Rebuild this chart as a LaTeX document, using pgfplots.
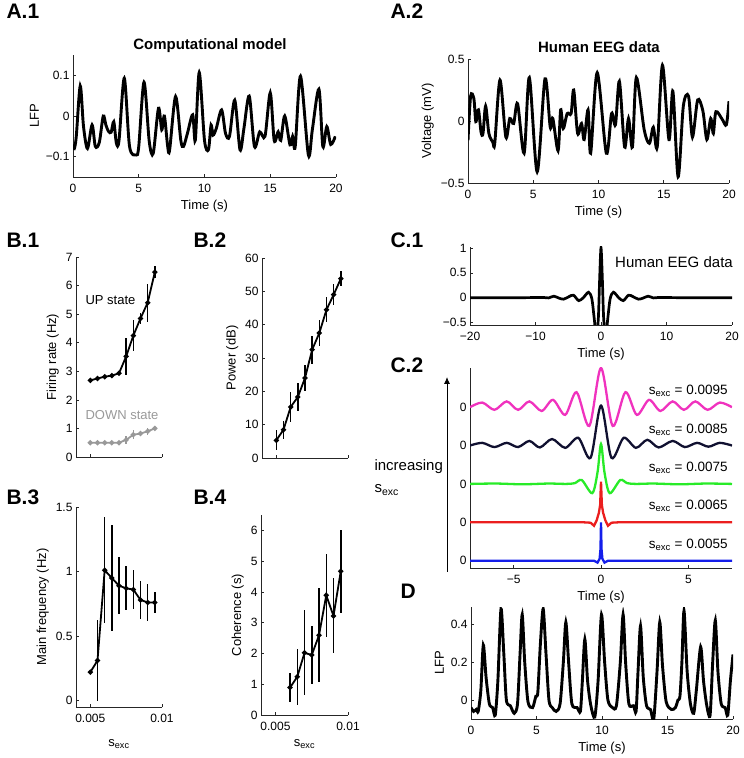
\documentclass[border=0pt]{standalone}
\usepackage{fontspec}
\setmainfont{Liberation Sans}
\usepackage{pgfplots}
\pgfplotsset{compat=1.18}
\usetikzlibrary{arrows.meta}

\definecolor{cpink}{RGB}{240,50,190}
\definecolor{cnavy}{RGB}{16,16,48}
\definecolor{cgreen}{RGB}{40,235,40}
\definecolor{cred}{RGB}{235,30,30}
\definecolor{cblue}{RGB}{20,30,235}

\pgfplotsset{
  mstyle/.style={
    scale only axis, anchor=south west,
    axis lines*=left,
    axis line style={line width=0.6pt, black!85},
    tick style={line width=0.6pt, black!85},
    major tick length=3pt, tick align=inside,
    /pgf/number format/assume math mode=true,
    scaled ticks=false,
    ticklabel style={font=\fontsize{12}{14}\selectfont},
    xticklabel style={yshift=-4pt},
    label style={font=\fontsize{13}{15}\selectfont},
  },
  ebar/.style={error bars/.cd, y dir=both, y explicit, error mark=none,
    error bar style={line width=1.5pt}},
}
\newcommand{\plab}[3]{\node[font=\bfseries\fontsize{21}{21}\selectfont, anchor=base west] at (#1pt,#2pt) {#3};}
\newcommand{\sexc}{s\textsubscript{exc}}

\begin{document}
\begin{tikzpicture}
\useasboundingbox (0pt,0pt) rectangle (744pt,758pt);

% ---------- A.1
\plab{3}{739}{A.1}
\node[font=\bfseries\fontsize{15}{15}\selectfont, anchor=base] at (210pt,708pt) {Computational model};
\begin{axis}[mstyle, at={(73pt,581pt)}, width=263pt, height=122pt,
  xmin=0, xmax=20, ymin=-0.15, ymax=0.15,
  xtick={0,5,10,15,20}, ytick={-0.1,0,0.1}, yticklabels={−0.1,0,0.1},
  xlabel={Time (s)}, ylabel={LFP}]
\addplot[black, line width=2.9pt, smooth] coordinates {
(0,-0.07)(0.1,-0.08)(0.25,-0.05)(0.55,0.074)(0.8,-0.026)(1.1,-0.08)(1.45,-0.022)(1.7,-0.075)
(2.0,-0.065)(2.3,0)(2.5,-0.022)(2.7,-0.038)(2.9,-0.04)(3.1,-0.014)(3.3,-0.067)(3.5,-0.06)
(3.9,0.093)(4.3,-0.075)(4.8,-0.096)(5.0,-0.075)(5.4,0.083)(5.8,-0.063)(6.1,-0.092)(6.5,0.019)
(6.75,-0.034)(6.95,0)(7.2,-0.075)(7.35,-0.083)(7.8,0.048)(8.2,-0.06)(8.4,-0.075)(8.7,-0.043)
(9.1,0.003)(9.3,-0.06)(9.6,0.107)(10.0,-0.06)(10.3,-0.083)(10.5,-0.022)(10.65,-0.047)(10.9,-0.03)
(11.3,0.015)(11.6,-0.043)(11.9,-0.05)(12.3,0.039)(12.7,-0.083)(13.0,-0.03)(13.4,0.049)(13.8,-0.075)
(14.2,-0.039)(14.6,-0.05)(15.0,0.057)(15.3,-0.06)(15.6,-0.039)(15.8,-0.06)(16.1,0)(16.5,-0.071)
(16.7,-0.05)(16.9,-0.075)(17.3,0.098)(17.9,-0.096)(18.2,-0.034)(18.7,0.066)(19.0,-0.075)(19.3,-0.026)
(19.6,-0.07)(19.95,-0.05)};
\end{axis}

% ---------- A.2
\plab{387}{739}{A.2}
\node[font=\bfseries\fontsize{15}{15}\selectfont, anchor=base] at (599pt,705pt) {Human EEG data};
\begin{axis}[mstyle, at={(468pt,575pt)}, width=261pt, height=124pt,
  xmin=0, xmax=20, ymin=-0.5, ymax=0.5,
  xtick={0,5,10,15,20}, ytick={-0.5,0,0.5}, yticklabels={−0.5,0,0.5},
  xlabel={Time (s)}, ylabel={Voltage (mV)}]
\addplot[black, line width=2.9pt, smooth] coordinates {
(0.0,-0.155)(0.2,0.2)(0.45,0.18)(0.6,-0.005)(0.8,0.09)(1.0,-0.09)(1.15,-0.1)(1.35,0.12)
(1.6,-0.1)(1.9,-0.17)(2.05,-0.18)(2.45,0.33)(2.9,-0.13)(3.2,0.02)(3.5,-0.02)(3.8,0.14)
(4.3,-0.26)(4.7,0.35)(5.3,-0.41)(5.9,0.34)(6.3,-0.05)(6.5,0.02)(6.9,-0.24)(7.1,0.09)
(7.3,-0.06)(7.6,0.06)(7.9,0.06)(8.1,0.25)(8.4,-0.1)(8.7,-0.02)(8.9,-0.15)(9.2,0.09)
(9.4,-0.26)(9.9,0.39)(10.6,-0.26)(11.0,0.06)(11.3,-0.03)(11.6,0.32)(12.0,-0.21)(12.3,0.02)
(12.6,-0.21)(12.9,0.35)(13.5,-0.07)(13.9,-0.18)(14.2,-0.05)(14.5,-0.21)(14.9,0.45)(15.4,-0.15)
(15.7,0.24)(16.1,-0.45)(16.5,0.12)(16.9,0.2)(17.2,-0.13)(17.6,0.17)(18.0,0.08)(18.3,-0.15)
(18.6,0.02)(18.8,-0.1)(19.0,0.075)(19.5,0.01)(19.8,-0.03)(20.0,0.16)};
\end{axis}

% ---------- B.1
\plab{3}{510}{B.1}
\begin{axis}[mstyle, at={(76pt,301pt)}, width=86pt, height=200pt,
  xmin=0.004, xmax=0.01, ymin=0, ymax=7,
  xtick={0.005,0.01}, xticklabels={}, ytick={0,1,...,7},
  ylabel={Firing rate (Hz)}]
\addplot[black, line width=1.8pt, mark=*, mark size=1.6pt, ebar] coordinates {
(0.005,2.68)+-(0,0.05) (0.0055,2.75)+-(0,0.05) (0.006,2.81)+-(0,0.05) (0.0065,2.85)+-(0,0.05)
(0.007,2.93)+-(0,0.05) (0.0075,3.52)+-(0,0.65) (0.008,4.25)+-(0,0.55) (0.0085,4.85)+-(0,0.2)
(0.009,5.4)+-(0,0.67) (0.0095,6.47)+-(0,0.2)};
\addplot[black!40, line width=1.8pt, mark=*, mark size=1.6pt, ebar] coordinates {
(0.005,0.5)+-(0,0.03) (0.0055,0.5)+-(0,0.03) (0.006,0.5)+-(0,0.03) (0.0065,0.5)+-(0,0.03)
(0.007,0.5)+-(0,0.03) (0.0075,0.6)+-(0,0.15) (0.008,0.78)+-(0,0.15) (0.0085,0.82)+-(0,0.05)
(0.009,0.9)+-(0,0.12) (0.0095,1.0)+-(0,0.05)};
\end{axis}
\node[anchor=west, font=\fontsize{13}{15}\selectfont] at (82pt,458pt) {UP state};
\node[anchor=west, font=\fontsize{13}{15}\selectfont, text=black!40] at (82pt,343pt) {DOWN state};

% ---------- B.2
\plab{190}{510}{B.2}
\begin{axis}[mstyle, at={(262pt,300pt)}, width=86pt, height=200pt,
  xmin=0.004, xmax=0.01, ymin=0, ymax=60,
  xtick={0.005,0.01}, xticklabels={}, ytick={0,10,...,60},
  ylabel={Power (dB)}]
\addplot[black, line width=1.8pt, mark=*, mark size=1.6pt, ebar] coordinates {
(0.005,5.3)+-(0,3) (0.0055,8.5)+-(0,2.7) (0.006,15.3)+-(0,4.5) (0.0065,18.3)+-(0,4.2)
(0.007,24)+-(0,3.9) (0.0075,32.5)+-(0,4.2) (0.008,37.5)+-(0,4) (0.0085,44.5)+-(0,3.7)
(0.009,49)+-(0,3.2) (0.0095,53.8)+-(0,2.2)};
\end{axis}

% ---------- B.3
\plab{3}{253}{B.3}
\begin{axis}[mstyle, at={(76pt,51pt)}, width=86pt, height=200pt,
  xmin=0.004, xmax=0.01, ymin=-0.05, ymax=1.5,
  xtick={0.005,0.01}, xticklabels={0.005,0.01}, ytick={0,0.5,1,1.5},
  xlabel={\sexc}, xlabel style={yshift=-10pt},
  ylabel={Main frequency (Hz)}]
\addplot[black, line width=1.8pt, mark=*, mark size=1.6pt, ebar] coordinates {
(0.005,0.22)+-(0,0) (0.0055,0.31)+-(0,0.315) (0.006,1.01)+-(0,0.41) (0.0065,0.95)+-(0,0.41)
(0.007,0.89)+-(0,0.22) (0.0075,0.87)+-(0,0.17) (0.008,0.86)+-(0,0.15) (0.0085,0.78)+-(0,0.145)
(0.009,0.76)+-(0,0.14) (0.0095,0.76)+-(0,0.085)};
\end{axis}

% ---------- B.4
\plab{190}{253}{B.4}
\begin{axis}[mstyle, at={(261pt,43pt)}, width=87pt, height=200pt,
  xmin=0.004, xmax=0.01, ymin=0, ymax=6.5,
  xtick={0.005,0.01}, xticklabels={0.005,0.01}, ytick={0,1,...,6},
  xlabel={\sexc}, xlabel style={yshift=-2pt},
  ylabel={Coherence (s)}]
\addplot[black, line width=1.8pt, mark=*, mark size=1.6pt, ebar] coordinates {
(0.006,0.89)+-(0,0.46) (0.0065,1.24)+-(0,0.92) (0.007,2.02)+-(0,1.38) (0.0075,1.95)+-(0,0.93)
(0.008,2.59)+-(0,1.53) (0.0085,3.89)+-(0,1.35) (0.009,3.22)+-(0,1.22) (0.0095,4.67)+-(0,1.35)};
\end{axis}

% ---------- C.1
\plab{387}{510}{C.1}
\begin{axis}[mstyle, at={(470pt,433pt)}, width=262pt, height=78pt,
  xmin=-20, xmax=20, ymin=-0.55, ymax=1.02,
  xtick={-20,-10,0,10,20}, xticklabels={−20,−10,0,10,20},
  ytick={-0.5,0,0.5,1}, yticklabels={−0.5,0,0.5,1},
  xlabel={Time (s)}]
\addplot[black, line width=2.7pt, smooth] coordinates {
(-20,0)(-12,0)(-9,0.005)(-8,-0.005)(-7.2,0.03)(-6.4,-0.01)(-5.7,-0.03)(-4.9,0.02)(-4.2,0.05)
(-3.4,-0.06)(-2.7,0.0)(-1.9,0.11)(-1.4,-0.02)(-1.05,-0.4)(-0.7,-0.8)(-0.4,-0.4)(-0.2,0.4)(0,1)
(0.2,0.4)(0.4,-0.4)(0.7,-0.8)(1.05,-0.4)(1.4,-0.02)(1.9,0.11)(2.7,0)(3.4,-0.06)(4.2,0.05)
(4.9,0.02)(5.7,-0.03)(6.4,-0.01)(7.2,0.03)(8,-0.005)(9,0.005)(12,0)(20,0)};
\end{axis}
\node[font=\fontsize{15}{15}\selectfont] at (674pt,496pt) {Human EEG data};

% ---------- C.2
\plab{387}{385}{C.2}
\begin{axis}[mstyle, at={(470pt,190pt)}, width=262pt, height=200pt,
  xmin=-7.5, xmax=7.5, ymin=-0.19, ymax=5.02,
  xtick={-5,0,5}, xticklabels={−5,0,5},
  ytick={0,1,2,3,4}, yticklabels={0,0,0,0,0}, ytick style={draw=none},
  xlabel={Time (s)}]
\addplot[cpink, line width=2.3pt, smooth] coordinates {
(-7.5,4.0)(-6.8,4.12)(-6.1,3.93)(-5.4,4.15)(-4.75,3.93)(-4.1,4.15)(-3.4,3.9)(-2.75,4.19)
(-2.05,3.8)(-1.4,4.39)(-0.67,3.51)(0,5.02)(0.67,3.51)(1.4,4.39)(2.05,3.8)(2.75,4.19)
(3.4,3.9)(4.1,4.15)(4.75,3.93)(5.4,4.15)(6.1,3.93)(6.8,4.12)(7.5,4.0)};
\addplot[cnavy, line width=2.3pt, smooth] coordinates {
(-7.5,3)(-6.8,3.07)(-6.1,2.96)(-5.4,3.07)(-4.75,2.96)(-4.1,3.12)(-3.5,2.95)(-2.8,3.17)
(-2.05,2.94)(-1.3,3.2)(-0.6,2.68)(0,4.04)(0.6,2.68)(1.3,3.2)(2.0,2.94)(2.65,3.15)(3.3,2.95)
(4.1,3.12)(4.8,2.96)(5.5,3.07)(6.15,2.97)(6.8,3.07)(7.5,3.0)};
\addplot[cgreen, line width=2.3pt, smooth] coordinates {
(-7.5,2)(-6,2.01)(-4.5,1.99)(-3,2.01)(-2,2.0)(-1.5,2.02)(-1.1,2.1)(-0.5,1.76)(-0.2,2.3)
(0,3.04)(0.2,2.3)(0.5,1.76)(1.1,2.1)(1.5,2.02)(2,2.0)(3,2.01)(4.5,1.99)(6,2.01)(7.5,2)};
\addplot[cred, line width=2.3pt] coordinates {
(-7.5,1)(-1,1.0)(-0.6,0.99)(-0.4,0.91)(-0.25,1.05)(-0.12,1.25)(-0.05,1.45)(0,2.06)
(0.05,1.45)(0.12,1.25)(0.25,1.05)(0.4,0.91)(0.6,0.99)(1,1.0)(7.5,1)};
\addplot[cblue, line width=2.3pt] coordinates {
(-7.5,0)(-1,0)(-0.4,0.0)(-0.2,-0.05)(-0.08,0.05)(-0.03,0.3)(0,1.0)(0.03,0.3)(0.08,0.05)
(0.2,-0.05)(0.4,0)(1,0)(7.5,0)};
\node[anchor=east, font=\fontsize{13.5}{15}\selectfont] at (axis cs:7.45,4.42) {\sexc{} = 0.0095};
\node[anchor=east, font=\fontsize{13.5}{15}\selectfont] at (axis cs:7.45,3.42) {\sexc{} = 0.0085};
\node[anchor=east, font=\fontsize{13.5}{15}\selectfont] at (axis cs:7.45,2.42) {\sexc{} = 0.0075};
\node[anchor=east, font=\fontsize{13.5}{15}\selectfont] at (axis cs:7.45,1.42) {\sexc{} = 0.0065};
\node[anchor=east, font=\fontsize{13.5}{15}\selectfont] at (axis cs:7.45,0.42) {\sexc{} = 0.0055};
\end{axis}
\draw[-{Latex[length=7pt,width=6pt]}, line width=0.9pt] (447pt,186pt) -- (447pt,381pt);
\node[anchor=west, font=\fontsize{15}{17}\selectfont] at (371pt,291pt) {increasing};
\node[anchor=west, font=\fontsize{15}{17}\selectfont] at (371pt,268pt) {\sexc};

% ---------- D
\plab{397}{159}{D}
\begin{axis}[mstyle, at={(471pt,39pt)}, width=262pt, height=112pt,
  xmin=0, xmax=20, ymin=-0.1, ymax=0.49,
  xtick={0,5,10,15,20}, ytick={0,0.2,0.4},
  xlabel={Time (s)}, ylabel={LFP}]
\addplot[black, line width=2.9pt, smooth, tension=0.45] coordinates {
(0,-0.04)(0.2,-0.06)(0.4,-0.05)(0.55,-0.06)(0.75,0.05)(0.94,0.29)(1.15,0.12)(1.4,-0.02)
(1.65,-0.04)(1.85,-0.08)(2.05,0.1)(2.29,0.48)(2.5,0.25)(2.7,0.0)(3.0,-0.03)(3.3,-0.07)
(3.55,-0.02)(3.75,0.25)(3.91,0.45)(4.1,0.2)(4.35,-0.01)(4.7,-0.04)(4.95,0.02)(5.1,0.04)
(5.3,0.3)(5.51,0.48)(5.72,0.25)(5.95,0.0)(6.2,-0.04)(6.5,-0.06)(6.8,-0.02)(7.05,0.2)
(7.24,0.41)(7.45,0.2)(7.7,-0.02)(8.1,-0.04)(8.35,-0.06)(8.5,0.1)(8.69,0.32)(8.9,0.1)
(9.15,-0.03)(9.45,-0.09)(9.7,0.1)(9.96,0.45)(10.2,0.2)(10.45,0.0)(10.8,-0.04)(11.1,-0.03)
(11.4,0.2)(11.61,0.45)(11.8,0.2)(12.05,-0.02)(12.4,-0.03)(12.6,-0.06)(12.75,0.15)(12.94,0.39)
(13.15,0.12)(13.4,-0.03)(13.7,-0.05)(13.95,-0.1)(14.2,0.15)(14.41,0.41)(14.62,0.18)(14.9,-0.01)
(15.3,-0.05)(15.6,-0.04)(15.8,0.0)(15.95,0.02)(16.1,0.2)(16.26,0.47)(16.5,0.15)(16.75,-0.02)
(17.0,-0.07)(17.2,0.05)(17.53,0.28)(17.75,0.1)(18.0,-0.03)(18.25,-0.08)(18.45,0.2)(18.65,0.42)
(18.85,0.15)(19.1,-0.02)(19.4,-0.04)(19.6,-0.08)(19.8,0.1)(20.0,0.24)};
\end{axis}
\end{tikzpicture}
\end{document}
